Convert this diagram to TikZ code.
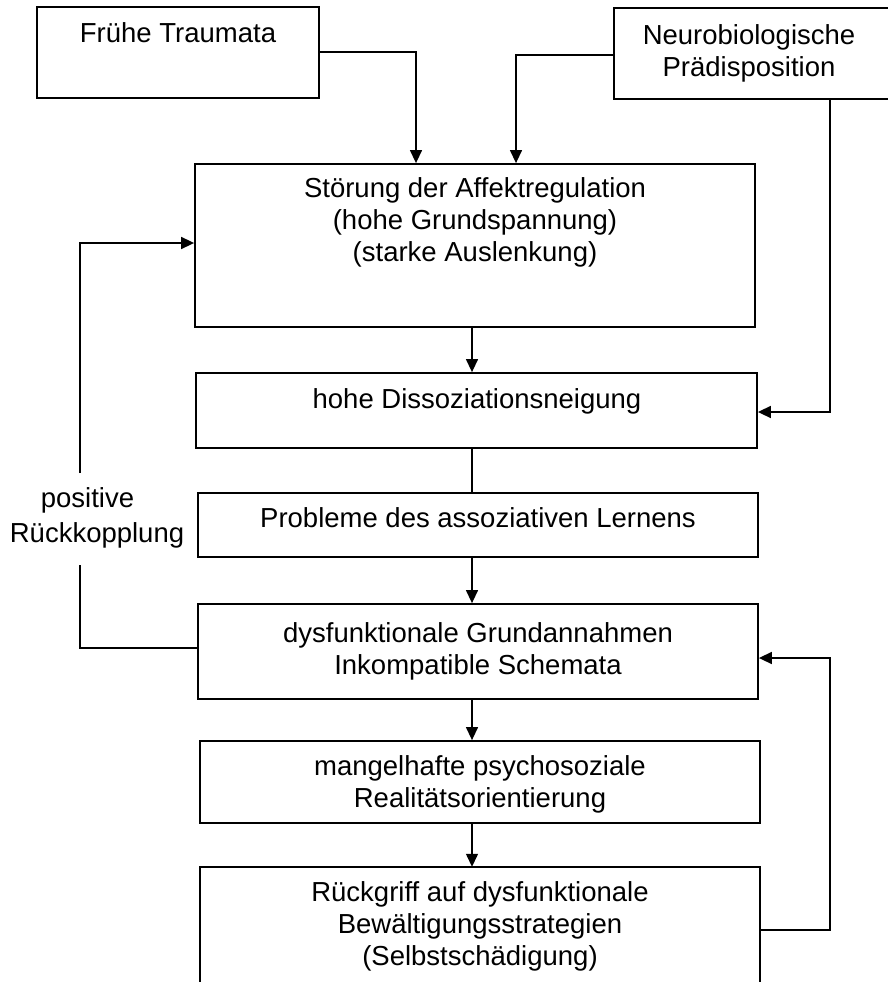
\documentclass[tikz,border=0pt]{standalone}
\usepackage{fontspec}
\setmainfont{Liberation Sans}
\usetikzlibrary{arrows.meta}
\begin{document}
\begin{tikzpicture}[x=1pt,y=-1pt,
  box/.style={draw, line width=1.8pt, rectangle, inner sep=0pt},
  boxline/.style={line width=1.8pt},
  txt/.style={font=\fontsize{27.5}{32}\selectfont, align=center, inner sep=0pt, anchor=base},
  conn/.style={line width=1.3pt},
  arr/.style={conn, -{Triangle[length=13pt,width=12pt]}},
  fb/.style={line width=1.6pt},
  fbarr/.style={fb, -{Triangle[length=13pt,width=12pt]}}]
\useasboundingbox (0,0) rectangle (887,982);
% boxes
\node[box, minimum width=282pt, minimum height=91pt] (frueh) at (178,52.5) {};
\node[box, minimum width=275pt, minimum height=91pt] (neuro) at (751.5,53.5) {};
\node[box, minimum width=560pt, minimum height=163pt] (stoer) at (475,245.5) {};
\node[box, minimum width=561pt, minimum height=75pt] (diss) at (476.5,410.5) {};
\node[box, minimum width=560pt, minimum height=64pt] (probl) at (478,525) {};
\node[box, minimum width=560pt, minimum height=95pt] (dysf) at (478,651.5) {};
\node[box, minimum width=560pt, minimum height=82pt] (mang) at (480,782) {};
\node[inner sep=0pt, minimum width=560pt, minimum height=136pt] (rueck) at (480,935) {};
\draw[boxline] (rueck.south west) -- (rueck.north west) -- (rueck.north east) -- (rueck.south east);
% texts (anchor=base is the baseline of the last line)
\node[txt] (tfrueh) at (178,43) {Frühe Traumata};
\node[txt] (tneuro) at (749,76) {Neurobiologische\\Prädisposition};
\node[txt] (tstoer) at (475,261) {Störung der Affektregulation\\(hohe Grundspannung)\\(starke Auslenkung)};
\node[txt] (tdiss) at (477,408) {hohe Dissoziationsneigung};
\node[txt] (tprobl) at (478,527) {Probleme des assoziativen Lernens};
\node[txt] (tdysf) at (478,674) {dysfunktionale Grundannahmen\\Inkompatible Schemata};
\node[txt] (tmang) at (480,807) {mangelhafte psychosoziale\\Realitätsorientierung};
\node[txt] (trueck) at (480,965) {Rückgriff auf dysfunktionale\\Bewältigungsstrategien\\(Selbstschädigung)};
\node[txt, font=\fontsize{27.5}{35}\selectfont] (lbl) at (97,542) {positive\hspace*{19pt}\\Rückkopplung};
% connectors
\coordinate (c1) at (416,52);
\draw[arr] (c1 -| frueh.east) -- (c1) -- (c1 |- stoer.north);
\coordinate (c2) at (516,55);
\draw[arr] (c2 -| neuro.west) -- (c2) -- (c2 |- stoer.north);
\coordinate (c3) at (830,412);
\draw[fbarr] (c3 |- neuro.south) -- (c3) -- (c3 -| diss.east);
\coordinate (cx) at (472,0);
\draw[arr] (cx |- stoer.south) -- (cx |- diss.north);
\draw[conn] (cx |- diss.south) -- (cx |- probl.north);
\draw[arr] (cx |- probl.south) -- (cx |- dysf.north);
\draw[arr] (cx |- dysf.south) -- (cx |- mang.north);
\draw[arr] (cx |- mang.south) -- (cx |- rueck.north);
% positive feedback loop
\coordinate (f1) at (80,648);
\coordinate (f2) at (80,243);
\coordinate (g1) at (80,565);
\coordinate (g2) at (80,473);
\draw[fb] (f1 -| dysf.west) -- (f1) -- (g1);
\draw[fbarr] (g2) -- (f2) -- (f2 -| stoer.west);
% right feedback loop
\coordinate (r1) at (830,930);
\coordinate (r2) at (830,658);
\draw[fbarr] (r1 -| rueck.east) -- (r1) -- (r2) -- (r2 -| dysf.east);
\end{tikzpicture}
\end{document}
